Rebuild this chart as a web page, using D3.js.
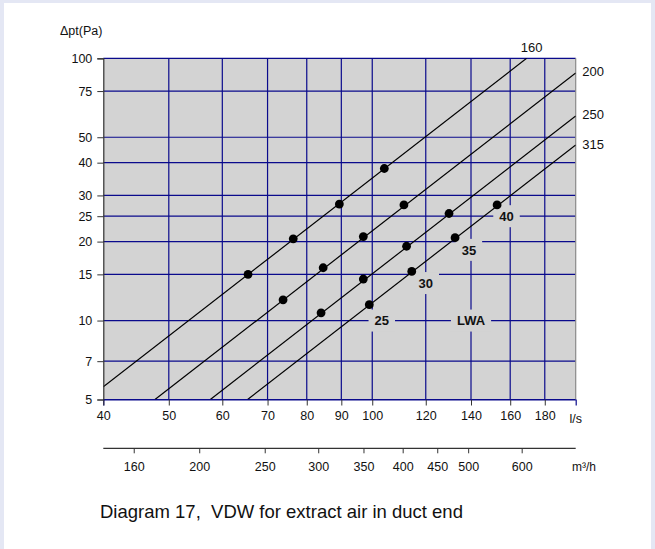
<!DOCTYPE html>
<html>
<head>
<meta charset="utf-8">
<script src="https://cdn.jsdelivr.net/npm/d3@7"></script>
<style>
  html, body { margin: 0; padding: 0; background: #e4e7f4; }
  svg { display: block; }
  text { font-family: "Liberation Sans", Arial, sans-serif; fill: #111; }
</style>
</head>
<body>
<svg id="chart" width="655" height="549"></svg>
<script>
// Flow (l/s) and total pressure drop (Pa) ticks
const flowTicks = [40, 50, 60, 70, 80, 90, 100, 120, 140, 160, 180];
const pressureTicks = [5, 7, 10, 15, 20, 25, 30, 40, 50, 75, 100];
const flowM3hTicks = [160, 200, 250, 300, 350, 400, 450, 500, 600];

// Duct sizes and each curve's end points [l/s, Pa]
const ductSizes = ["160", "200", "250", "315"];
const curveEnds = [
  [[40, 5.59], [169.2, 100]],
  [[47.7, 5], [200, 87.9]],
  [[57.6, 5], [200, 60.3]],
  [[65.4, 5], [200, 46.7]]
];

// Sound power points on each curve, LWA 25 / 30 / 35 / 40 dB(A)
const lwaLevels = ["25", "30", "35", "40"];
const pointsFlow = [
  [65.5, 76.4, 89.4, 104.2],
  [73.8, 84.6, 97.0, 111.4],
  [84.0, 97.0, 112.4, 129.9],
  [99.0, 114.4, 132.6, 153.0]
];
const pointsPressure = [
  [15.0, 20.5, 27.8, 38.0],
  [12.0, 15.9, 20.9, 27.6],
  [10.7, 14.4, 19.2, 25.6],
  [11.5, 15.4, 20.7, 27.6]
];

// LWA annotation anchors [l/s, Pa]
const lwaLabelText = ["25", "30", "35", "40", "LWA"];
const lwaLabelFlow = [103.3, 120, 139, 158, 140];
const lwaLabelPressure = [10, 13.9, 18.6, 25, 10];

const svg = d3.select("#chart");
const W = 655, H = 549;

// page panel
svg.append("rect").attr("x", 4).attr("y", 3).attr("width", W - 8).attr("height", H - 3)
  .attr("fill", "#ffffff");

const plotL = 103.3, plotR = 575.7, plotT = 58.3, plotB = 399.5;
const x = d3.scaleLog().domain([40, 200]).range([plotL, plotR]);
const y = d3.scaleLog().domain([5, 100]).range([plotB, plotT]);

const gridColor = "#0a0a8c";

// plot background
svg.append("rect").attr("x", plotL).attr("y", plotT)
  .attr("width", plotR - plotL).attr("height", plotB - plotT)
  .attr("fill", "#d3d3d3");

// grid
const grid = svg.append("g");
grid.selectAll("line.h").data(pressureTicks).join("line")
  .attr("x1", plotL).attr("x2", plotR)
  .attr("y1", d => y(d)).attr("y2", d => y(d))
  .attr("stroke", gridColor).attr("stroke-width", 1.2);
grid.selectAll("line.v").data(flowTicks.filter(d => d > 40)).join("line")
  .attr("x1", d => x(d)).attr("x2", d => x(d))
  .attr("y1", plotT).attr("y2", plotB)
  .attr("stroke", gridColor).attr("stroke-width", 1.2);

// right border
svg.append("line").attr("x1", plotR).attr("x2", plotR).attr("y1", plotT).attr("y2", plotB)
  .attr("stroke", "#8a8a8a").attr("stroke-width", 1.2);

// LWA labels with plot-coloured boxes that break the grid
const lwaG = svg.append("g");
lwaLabelText.forEach((t, i) => {
  const cx = x(lwaLabelFlow[i]), cy = y(lwaLabelPressure[i]);
  const txt = lwaG.append("text").attr("x", cx).attr("y", cy + 4.7)
    .attr("text-anchor", "middle").attr("font-size", 13).attr("font-weight", "bold")
    .text(t);
  const w = txt.node().getComputedTextLength();
  lwaG.insert("rect", "text").attr("x", cx - w / 2 - 6).attr("y", cy - 11)
    .attr("width", w + 12).attr("height", 22).attr("fill", "#d3d3d3");
});

// clip for curves
svg.append("clipPath").attr("id", "plotClip").append("rect")
  .attr("x", plotL).attr("y", plotT).attr("width", plotR - plotL).attr("height", plotB - plotT);

const line = d3.line().x(d => x(d[0])).y(d => y(d[1]));
svg.append("g").attr("clip-path", "url(#plotClip)")
  .selectAll("path").data(curveEnds).join("path")
  .attr("d", line).attr("fill", "none").attr("stroke", "#000").attr("stroke-width", 1.2);

// points
const pts = [];
pointsFlow.forEach((row, i) => row.forEach((q, j) => pts.push([q, pointsPressure[i][j], lwaLevels[j]])));
svg.append("g").selectAll("circle").data(pts).join("circle")
  .attr("cx", d => x(d[0])).attr("cy", d => y(d[1])).attr("r", 4.4).attr("fill", "#000");

// duct size labels at curve ends
curveEnds.forEach((c, i) => {
  const e = c[1];
  const ex = x(e[0]), ey = y(e[1]);
  if (i === 0) {
    svg.append("text").attr("x", ex + 5).attr("y", ey - 6.5).attr("text-anchor", "middle")
      .attr("font-size", 13).text(ductSizes[i]);
  } else {
    svg.append("text").attr("x", ex + 6.5).attr("y", ey + 3.5)
      .attr("font-size", 13).text(ductSizes[i]);
  }
});

// y axis
const yAxis = svg.append("g").attr("transform", `translate(${plotL},0)`)
  .call(d3.axisLeft(y).tickValues(pressureTicks).tickFormat(d3.format("d")).tickSize(6).tickPadding(5));
yAxis.select(".domain").attr("stroke", "#333").attr("stroke-width", 1.2);
yAxis.selectAll(".tick line").attr("stroke", "#333");
yAxis.selectAll(".tick text").attr("font-size", 12.5).attr("fill", "#111");

// x axis (l/s)
const xAxis = svg.append("g").attr("transform", `translate(0,${plotB})`)
  .call(d3.axisBottom(x).tickValues(flowTicks).tickFormat(d3.format("d")).tickSize(6).tickPadding(6));
xAxis.select(".domain").attr("stroke", gridColor).attr("stroke-width", 1.2);
xAxis.selectAll(".tick line").attr("stroke", "#333");
xAxis.selectAll(".tick text").attr("font-size", 12.5).attr("fill", "#111");

svg.append("text").attr("x", plotR).attr("y", plotB + 23).attr("text-anchor", "middle")
  .attr("font-size", 12.5).text("l/s");

// second x axis (m³/h)
const axisY2 = 448.3;
const x2 = d => x(d / 3.6);
const ax2 = svg.append("g");
ax2.append("line").attr("x1", plotL).attr("x2", plotR).attr("y1", axisY2).attr("y2", axisY2)
  .attr("stroke", "#333").attr("stroke-width", 1.2);
ax2.selectAll("line.t").data(flowM3hTicks).join("line")
  .attr("x1", d => x2(d)).attr("x2", d => x2(d)).attr("y1", axisY2).attr("y2", axisY2 + 5)
  .attr("stroke", "#333");
ax2.selectAll("text").data(flowM3hTicks).join("text")
  .attr("x", d => x2(d)).attr("y", axisY2 + 23).attr("text-anchor", "middle")
  .attr("font-size", 12.5).text(d => d);
svg.append("text").attr("x", 584).attr("y", axisY2 + 23).attr("text-anchor", "middle")
  .attr("font-size", 12).text("m³/h");

// y axis title
svg.append("text").attr("x", 60).attr("y", 35).attr("font-size", 12.5).text("Δpt(Pa)");

// caption
svg.append("text").attr("x", 100).attr("y", 518).attr("font-size", 18.5)
  .attr("xml:space", "preserve").style("white-space", "pre")
  .text("Diagram 17,  VDW for extract air in duct end");
</script>
</body>
</html>
